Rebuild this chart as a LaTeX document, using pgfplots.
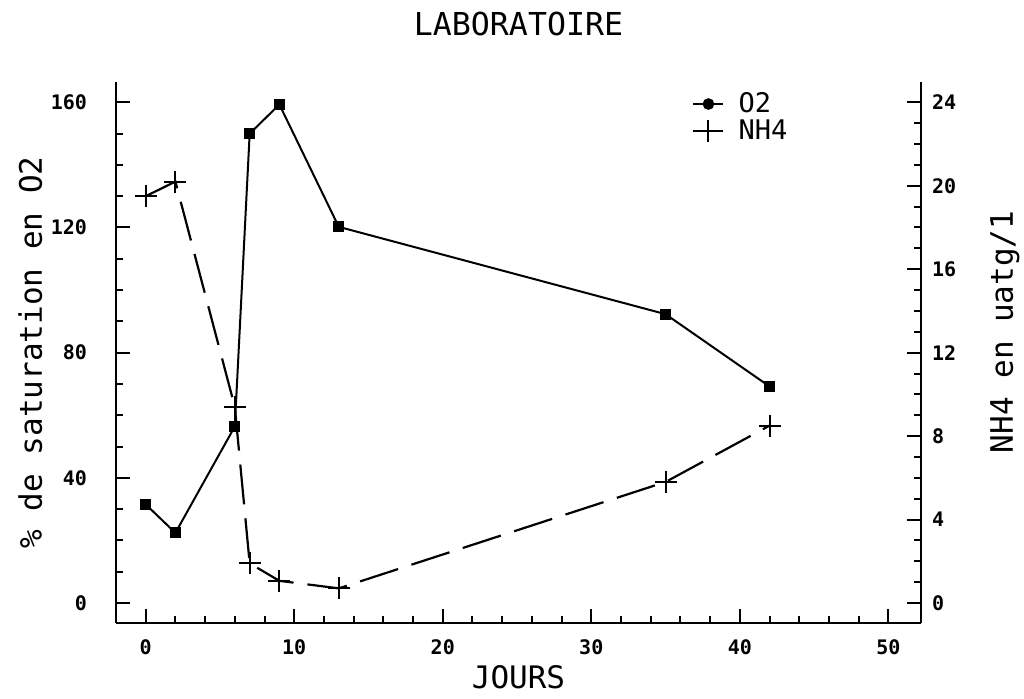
\documentclass[border=0pt]{standalone}
\usepackage{fontspec}
\setmainfont{DejaVu Sans Mono}
\usepackage{pgfplots}
\pgfplotsset{compat=1.18}
\pgfplotsset{
  common/.style={
    width=402.5pt, height=270.5pt, scale only axis,
    xmin=-2, xmax=52.2,
    axis line style={line width=1.2pt, -},
    tick style={line width=1pt, black},
    major tick length=7pt, minor tick length=3.5pt,
    tick align=inside,
    ticklabel style={font=\fontsize{10}{11}\selectfont\bfseries},
    /pgf/number format/assume math mode=true,
    clip=false,
  }
}
\begin{document}
\begin{tikzpicture}
\useasboundingbox (-58pt,-38pt) rectangle (454pt,311.5pt);
\begin{axis}[common,
  axis x line*=bottom, axis y line*=left,
  xtick pos=bottom, ytick pos=left,
  ymin=-6.4, ymax=166.5,
  xtick={0,10,20,30,40,50}, minor x tick num=4,
  ytick={0,40,80,120,160}, minor y tick num=3,
  xticklabel style={anchor=center, yshift=-12pt},
  yticklabel style={anchor=east, xshift=-11pt},
]
\addplot[black, line width=1pt, mark=square*, mark size=2.2pt] coordinates {
  (0,31.5) (2,22.4) (6,56.4) (7,150) (9,159.3) (13,120.2) (35,92.3) (42,69.2)
};
\end{axis}
\begin{axis}[common,
  axis x line=none, axis y line*=right,
  ytick pos=right, yticklabel pos=right,
  ymin=-0.96, ymax=24.975,
  ytick={0,4,8,12,16,20,24}, minor y tick num=3,
  yticklabel style={anchor=west, xshift=2pt},
  legend image code/.code={\draw[mark repeat=2,mark phase=2,#1] plot coordinates {(0pt,0pt) (7.5pt,0pt) (15pt,0pt)};},
  legend style={at={(0.7155,0.985)}, anchor=north west, draw=none, fill=none,
    inner sep=0pt, font=\fontsize{13.5}{15}\selectfont, row sep=0pt, column sep=6pt,
    nodes={inner sep=1pt}},
  legend cell align=left,
]
\addlegendimage{black, line width=1pt, mark=*, mark size=2.4pt}
\addlegendentry{O2}
\addplot[black, line width=1.1pt, dash pattern=on 20pt off 7pt, mark=+, mark size=5.5pt,
  mark options={solid, line width=1pt}] coordinates {
  (0,19.5) (2,20.2) (6,9.4) (7,1.9) (9,1.06) (13,0.7) (35,5.8) (42,8.5)
};
\addlegendentry{NH4}
\end{axis}
\node[anchor=base, font=\fontsize{15.8}{18}\selectfont] at ([yshift=23pt]current axis.north) {LABORATOIRE};
\node[anchor=base, font=\fontsize{15.5}{18}\selectfont] at ([yshift=-33pt]current axis.south) {JOURS};
\node[anchor=base, rotate=90, font=\fontsize{15.5}{18}\selectfont] at ([xshift=-37pt]current axis.west) {\% de saturation en O2};
\node[anchor=base, rotate=90, font=\fontsize{15.5}{18}\selectfont] at ([xshift=46pt, yshift=10.25pt]current axis.east) {NH4 en uatg/1};
\end{tikzpicture}
\end{document}
